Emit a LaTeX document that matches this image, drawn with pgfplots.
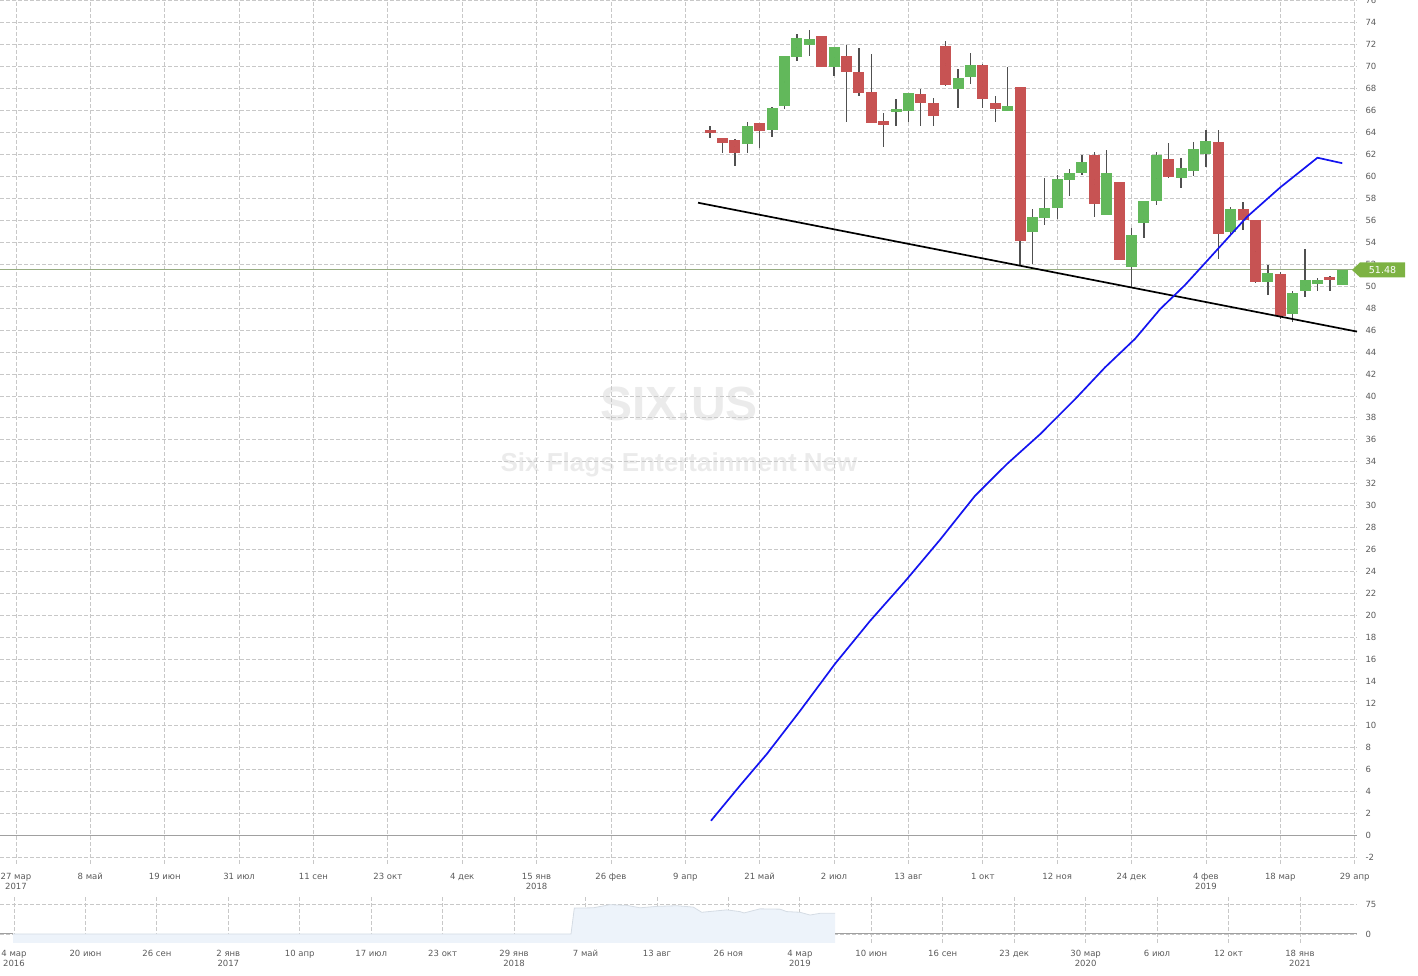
\documentclass[border=0pt]{standalone}
\usepackage{pgfplots}
\pgfplotsset{compat=1.18}
\usepackage{pgfplotstable}
\usepackage{fontspec}
\setmainfont{DejaVu Sans}
\newfontfamily\wmfont{Liberation Sans}

\definecolor{upc}{HTML}{62B85B}
\definecolor{downc}{HTML}{C75353}
\definecolor{wickc}{HTML}{505050}
\definecolor{gridc}{HTML}{C8C8C8}
\definecolor{lblc}{HTML}{5A5A5A}
\definecolor{zeroc}{HTML}{A0A0A0}
\definecolor{pricec}{HTML}{7DB243}
\definecolor{pricel}{HTML}{96AC80}
\definecolor{wmc}{HTML}{EBEBEB}
\definecolor{navfill}{HTML}{EDF3FA}
\definecolor{navedge}{HTML}{D5DCE4}
\definecolor{trendb}{HTML}{1414F0}

% weekly candles, x = bar index (0 = 27 mar 2017)
\pgfplotstableread{
x o h l c
56 64.21 64.55 63.48 63.97
57 63.48 63.50 62.09 63.06
58 63.30 63.39 60.91 62.15
60 64.85 64.85 62.58 64.15
65 72.76 72.76 69.94 69.94
67 70.94 71.94 64.91 69.52
68 69.48 71.73 67.36 67.61
69 67.67 71.18 64.88 64.88
70 65.03 65.73 62.64 64.70
73 67.48 67.94 64.61 66.70
74 66.67 67.18 64.61 65.52
75 71.85 72.30 68.24 68.30
78 70.15 70.20 66.21 67.06
79 66.67 67.36 65.00 66.12
81 68.12 68.12 51.88 54.15
87 61.97 62.21 56.33 57.45
89 59.52 59.52 52.36 52.36
93 61.60 63.03 59.85 59.97
97 63.15 64.21 52.48 54.79
99 57.00 57.70 55.10 56.06
100 56.00 56.00 50.30 50.36
102 51.15 51.27 46.97 47.27
106 50.79 50.97 49.55 50.52
}\downtab

\pgfplotstableread{
x o h l c
59 62.94 64.94 62.09 64.58
61 64.21 66.36 63.55 66.21
62 66.39 70.94 66.12 70.94
63 70.88 72.94 70.52 72.58
64 71.97 73.36 70.97 72.48
66 69.97 71.76 69.15 71.76
71 65.88 67.03 64.61 66.12
72 65.97 67.58 65.00 67.58
76 67.97 69.76 66.27 68.94
77 69.06 71.27 68.45 70.15
80 65.97 70.00 65.97 66.39
82 54.97 57.03 52.00 56.30
83 56.18 59.85 55.58 57.12
84 57.09 60.15 56.12 59.76
85 59.64 60.70 58.21 60.33
86 60.27 61.94 60.10 61.33
88 56.45 62.42 56.45 60.33
90 51.76 55.30 49.85 54.70
91 55.73 57.79 54.39 57.79
92 57.73 62.21 57.42 61.97
94 59.82 61.67 58.94 60.76
95 60.45 63.12 60.06 62.52
96 62.00 64.21 60.82 63.24
98 54.90 57.21 54.70 57.06
101 50.36 51.91 49.15 51.24
103 47.42 49.58 46.73 49.36
104 49.52 53.42 49.03 50.60
105 50.18 50.70 49.55 50.60
107 50.15 51.48 50.15 51.48
}\uptab

\pgfplotsset{
  wicks/.style={only marks, mark=*, mark size=0pt,
    mark options={draw=none, fill=none}, forget plot,
    error bars/.cd, y dir=both, y explicit, error mark=none,
    error bar style={line width=1.3pt, wickc}},
  bodies/.style={only marks, mark=*, mark size=0pt,
    mark options={draw=none, fill=none}, forget plot,
    error bars/.cd, y dir=both, y explicit, error mark=none,
    error bar style={line width=11pt, #1}},
  chartgrid/.style={
    scale only axis, width=1357pt,
    axis line style={draw=none}, major tick length=0pt,
    grid=major,
    major grid style={gridc, line width=0.8pt, dash pattern=on 4pt off 2pt},
    ticklabel style={font=\fontsize{8.5}{10.5}\selectfont, text=lblc},
    /pgf/number format/assume math mode=true,
    yticklabel pos=right,
    yticklabel style={anchor=west, xshift=5pt},
    xticklabel style={align=center, anchor=north, yshift=#1},
  },
  chartgrid/.default={-2pt},
}

\begin{document}
\begin{tikzpicture}[x=1pt,y=1pt]

% watermark
\node[text=wmc, font=\wmfont\bfseries\fontsize{48}{48}\selectfont] at (679,572) {SIX.US};
\node[text=wmc, font=\wmfont\bfseries\fontsize{26}{26}\selectfont] at (679,511) {Six Flags Entertainment New};

\begin{axis}[chartgrid=-5.5pt,
  at={(0pt,112pt)}, anchor=south west, height=864pt,
  xmin=-1.29, xmax=108.19, ymin=-2.64, ymax=76.07,
  xtick={0,6,...,108},
  xticklabels={27 мар\\2017, 8 май, 19 июн, 31 июл, 11 сен, 23 окт, 4 дек,
    15 янв\\2018, 26 фев, 9 апр, 21 май, 2 июл, 13 авг, 1 окт, 12 ноя,
    24 дек, 4 фев\\2019, 18 мар, 29 апр},
  ytick={-2,0,...,76},
]
\addplot[zeroc, line width=1pt, forget plot] coordinates {(-1.29,0) (108.19,0)};
\addplot[pricel, line width=0.9pt, forget plot] coordinates {(-1.29,51.48) (108.19,51.48)};

\addplot[wicks] table[x=x, y expr={(\thisrow{h}+\thisrow{l})/2}, y error expr={(\thisrow{h}-\thisrow{l})/2}] {\downtab};
\addplot[wicks] table[x=x, y expr={(\thisrow{h}+\thisrow{l})/2}, y error expr={(\thisrow{h}-\thisrow{l})/2}] {\uptab};
\addplot[bodies=downc] table[x=x, y expr={(\thisrow{o}+\thisrow{c})/2}, y error expr={abs(\thisrow{o}-\thisrow{c})/2}] {\downtab};
\addplot[bodies=upc] table[x=x, y expr={(\thisrow{o}+\thisrow{c})/2}, y error expr={abs(\thisrow{o}-\thisrow{c})/2}] {\uptab};

% support line
\addplot[black, line width=1.7pt] coordinates {(55.03,57.6) (108.19,45.86)};
% blue line
\addplot[trendb, line width=1.7pt] coordinates {
(56.07,1.3) (58.41,4.5) (60.59,7.4) (63.25,11.3) (66.08,15.6) (68.9,19.5)
(71.72,23.1) (74.55,26.9) (77.37,30.9) (79.95,33.8) (82.61,36.5) (85.44,39.7)
(87.86,42.6) (90.28,45.2) (92.3,47.9) (94.31,50.1) (96.33,52.6) (99.3,56.3)
(102.0,59.0) (105.0,61.7) (107.0,61.2)};
\coordinate (lastp) at (axis cs:108.19,51.48);
\end{axis}

% last price tag
\fill[pricec] (lastp) ++(-5,0) -- ++(8,7.5) -- ++(45,0) -- ++(0,-15) -- ++(-45,0) -- cycle;
\node[text=white, font=\fontsize{9.5}{10}\selectfont] at ([xshift=25.5pt]lastp) {51.48};

% navigator
\begin{axis}[chartgrid=-3.5pt,
  at={(0pt,33pt)}, anchor=south west, height=47pt,
  xmin=0, xmax=1357, ymin=-22.5, ymax=95,
  xtick={14,85.44,156.88,228.32,299.76,371.2,442.64,514.08,585.52,656.96,
    728.4,799.84,871.28,942.72,1014.16,1085.6,1157.04,1228.48,1299.92},
  xticklabels={4 мар\\2016, 20 июн, 26 сен, 2 янв\\2017, 10 апр, 17 июл, 23 окт,
    29 янв\\2018, 7 май, 13 авг, 26 ноя, 4 мар\\2019, 10 июн, 16 сен, 23 дек,
    30 мар\\2020, 6 июл, 12 окт, 18 янв\\2021},
  ytick={0,75},
]
\addplot[fill=navfill, draw=none, forget plot] coordinates {
(13,-30) (13,0) (571,0) (574.3,64.7) (593.3,65.5) (610,73.3) (626.7,71.6)
(640,65.5) (656.7,69.0) (676.7,70.7) (693.3,67.2) (701.7,54.3) (726.7,60.3)
(740,56.0) (744,52.6) (760,62.9) (780,62.1) (786.7,56.0) (800,54.3)
(810,47.4) (820,51.7) (835,51.7) (835,-30)} -- cycle;
\addplot[navedge, line width=0.8pt, forget plot] coordinates {
(13,0) (571,0) (574.3,64.7) (593.3,65.5) (610,73.3) (626.7,71.6)
(640,65.5) (656.7,69.0) (676.7,70.7) (693.3,67.2) (701.7,54.3) (726.7,60.3)
(740,56.0) (744,52.6) (760,62.9) (780,62.1) (786.7,56.0) (800,54.3)
(810,47.4) (820,51.7) (835,51.7)};
\addplot[zeroc, line width=1pt, forget plot] coordinates {(0,0) (13,0)};
\addplot[zeroc, line width=1pt, forget plot] coordinates {(835,0) (1357,0)};
\end{axis}

\pgfresetboundingbox
\useasboundingbox (0,0) rectangle (1418,976);
\end{tikzpicture}
\end{document}
